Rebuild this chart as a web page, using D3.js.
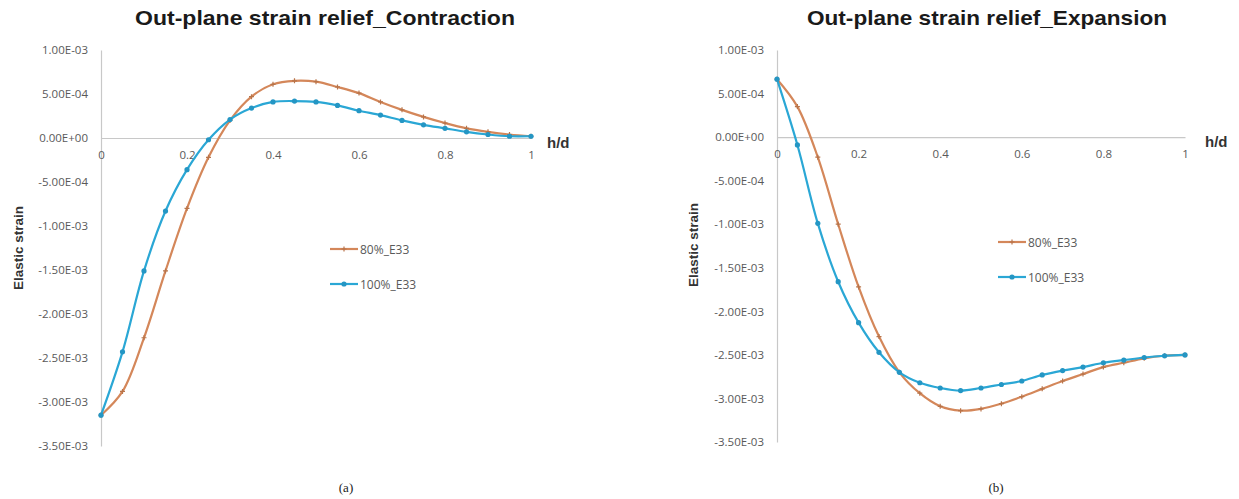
<!DOCTYPE html>
<html><head><meta charset="utf-8">
<script src="https://cdn.jsdelivr.net/npm/d3@7"></script>
<style>
html,body{margin:0;padding:0;background:#fff;}
svg{display:block;}
</style></head>
<body>
<svg id="chart" width="1239" height="499"></svg>
<script>
// ---------- data ----------
const hd = [0,0.05,0.1,0.15,0.2,0.25,0.3,0.35,0.4,0.45,0.5,0.55,0.6,0.65,0.7,0.75,0.8,0.85,0.9,0.95,1];
const seriesNames = ["80%_E33","100%_E33"];
// (a) Contraction
const contraction80 = [-3.15e-3,-2.88e-3,-2.27e-3,-1.51e-3,-0.80e-3,-0.22e-3,0.20e-3,0.47e-3,0.61e-3,0.65e-3,0.64e-3,0.58e-3,0.51e-3,0.41e-3,0.32e-3,0.24e-3,0.17e-3,0.11e-3,0.07e-3,0.04e-3,0.02e-3];
const contraction100 = [-3.15e-3,-2.43e-3,-1.51e-3,-0.83e-3,-0.36e-3,-0.02e-3,0.21e-3,0.34e-3,0.41e-3,0.42e-3,0.41e-3,0.37e-3,0.31e-3,0.26e-3,0.20e-3,0.15e-3,0.11e-3,0.07e-3,0.04e-3,0.02e-3,0.02e-3];
// (b) Expansion
const expansion80 = [0.665e-3,0.35e-3,-0.23e-3,-1.00e-3,-1.72e-3,-2.29e-3,-2.70e-3,-2.94e-3,-3.09e-3,-3.14e-3,-3.12e-3,-3.06e-3,-2.98e-3,-2.89e-3,-2.80e-3,-2.72e-3,-2.64e-3,-2.59e-3,-2.54e-3,-2.51e-3,-2.50e-3];
const expansion100 = [0.665e-3,-0.09e-3,-0.99e-3,-1.66e-3,-2.13e-3,-2.47e-3,-2.70e-3,-2.82e-3,-2.88e-3,-2.91e-3,-2.88e-3,-2.84e-3,-2.80e-3,-2.73e-3,-2.68e-3,-2.64e-3,-2.59e-3,-2.56e-3,-2.53e-3,-2.51e-3,-2.50e-3];
const yTickValues = [1e-3,5e-4,0,-5e-4,-1e-3,-1.5e-3,-2e-3,-2.5e-3,-3e-3,-3.5e-3];
const yTickLabels = ["1.00E-03","5.00E-04","0.00E+00","-5.00E-04","-1.00E-03","-1.50E-03","-2.00E-03","-2.50E-03","-3.00E-03","-3.50E-03"];
const xTickValues = [0,0.2,0.4,0.6,0.8,1];
const xTickLabels = ["0","0.2","0.4","0.6","0.8","1"];
const titles = ["Out-plane strain relief_Contraction","Out-plane strain relief_Expansion"];
const captions = ["(a)","(b)"];

// ---------- layout ----------
const colors = ["#d4875a","#2aa7d5"];
const svg = d3.select("#chart");
const panels = [
  {x0:101, x1:531, y0:446, y1:50, title:titles[0], titleX:325, titleW:380, caption:captions[0], capX:346,
   data:[contraction80, contraction100], legX:330, legY:249, hdX:547, ylabX:18, ylabY:248},
  {x0:777, x1:1185, y0:442, y1:50, title:titles[1], titleX:987, titleW:360, caption:captions[1], capX:996,
   data:[expansion80, expansion100], legX:998, legY:242, hdX:1205, ylabX:693, ylabY:245}
];
const font = "'Open Sans', 'Liberation Sans', sans-serif";

panels.forEach(p => {
  const x = d3.scaleLinear().domain([0,1]).range([p.x0, p.x1]);
  const y = d3.scaleLinear().domain([-3.5e-3, 1e-3]).range([p.y0, p.y1]);
  const g = svg.append("g");
  const zeroY = y(0);

  // title
  g.append("text").attr("x", p.titleX).attr("y", 25).attr("text-anchor","middle")
    .attr("font-family","'Liberation Sans', Arial, sans-serif").attr("font-weight","bold")
    .attr("font-size",21).attr("fill","#1a1a1a")
    .attr("textLength", p.titleW).attr("lengthAdjust","spacingAndGlyphs").text(p.title);

  // y axis (no ticks)
  const yAxis = d3.axisLeft(y).tickValues(yTickValues).tickSize(0).tickPadding(13)
    .tickFormat((d,i) => yTickLabels[i]);
  const ya = g.append("g").attr("transform",`translate(${x(0)},0)`).call(yAxis);
  ya.select(".domain").attr("stroke","#c8c8c8").attr("stroke-width",1.2);
  ya.selectAll("text").attr("font-family",font).attr("font-size",11.5).attr("fill","#595959");

  // x axis at zero
  const xAxis = d3.axisBottom(x).tickValues(xTickValues).tickSize(0).tickPadding(13)
    .tickFormat((d,i) => xTickLabels[i]);
  const xa = g.append("g").attr("transform",`translate(0,${zeroY})`).call(xAxis);
  xa.select(".domain").attr("stroke","#c8c8c8").attr("stroke-width",1.2);
  xa.selectAll("text").attr("font-family",font).attr("font-size",11.5).attr("fill","#595959");

  // h/d label
  g.append("text").attr("x", p.hdX).attr("y", zeroY + 10)
    .attr("font-family","'Liberation Sans', Arial, sans-serif").attr("font-weight","bold")
    .attr("font-size",15).attr("fill","#333").text("h/d");

  // y label
  g.append("text").attr("transform",`translate(${p.ylabX + 5},${p.ylabY}) rotate(-90)`)
    .attr("text-anchor","middle")
    .attr("font-family","'Liberation Sans', Arial, sans-serif").attr("font-weight","bold")
    .attr("font-size",13.5).attr("fill","#333").text("Elastic strain");

  // lines
  const line = d3.line().x((d,i)=>x(hd[i])).y(d=>y(d)).curve(d3.curveCatmullRom.alpha(0.5));
  p.data.forEach((vals, si) => {
    g.append("path").datum(vals).attr("d", line).attr("fill","none")
      .attr("stroke", colors[si]).attr("stroke-width", 2.2);
  });
  // markers
  p.data.forEach((vals, si) => {
    const mg = g.append("g");
    vals.forEach((v,i) => {
      const cx = x(hd[i]), cy = y(v);
      if (si === 0) {
        mg.append("path").attr("d", `M${cx-2.5},${cy}L${cx+2.5},${cy}M${cx},${cy-2.5}L${cx},${cy+2.5}`)
          .attr("stroke","#b8744a").attr("stroke-width",1.2);
      } else {
        mg.append("circle").attr("cx",cx).attr("cy",cy).attr("r",2.6).attr("fill","#2496c4");
      }
    });
  });

  // legend
  seriesNames.forEach((name, si) => {
    const ly = p.legY + si*35;
    g.append("line").attr("x1",p.legX).attr("x2",p.legX+28).attr("y1",ly).attr("y2",ly)
      .attr("stroke",colors[si]).attr("stroke-width",2.2);
    const mx = p.legX+14;
    if (si === 0) {
      g.append("path").attr("d",`M${mx-2.5},${ly}L${mx+2.5},${ly}M${mx},${ly-2.5}L${mx},${ly+2.5}`)
        .attr("stroke","#b8744a").attr("stroke-width",1.2);
    } else {
      g.append("circle").attr("cx",mx).attr("cy",ly).attr("r",2.6).attr("fill","#2496c4");
    }
    g.append("text").attr("x",p.legX+30).attr("y",ly+4.5)
      .attr("font-family",font).attr("font-size",12).attr("fill","#595959").text(name);
  });

  // caption
  g.append("text").attr("x",p.capX).attr("y",492).attr("text-anchor","middle")
    .attr("font-family","'Liberation Serif', 'Times New Roman', serif")
    .attr("font-size",13).attr("fill","#222").text(p.caption);
});
</script>
</body></html>
